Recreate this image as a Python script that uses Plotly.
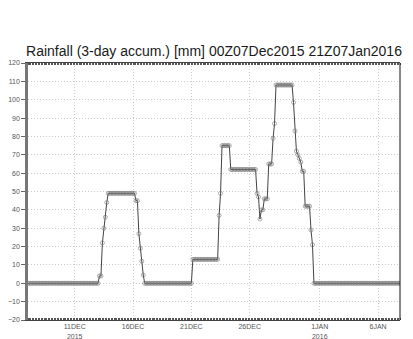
import pandas as pd
import plotly.graph_objects as go

# 3-hourly times, 00Z07Dec2015 .. 21Z07Jan2016
times = pd.date_range("2015-12-07 00:00", "2016-01-07 21:00", freq="3h")

rain_3day = [
    0, 0, 0, 0, 0, 0, 0, 0, 0, 0, 0, 0, 0, 0, 0, 0,
    0, 0, 0, 0, 0, 0, 0, 0, 0, 0, 0, 0, 0, 0, 0, 0,
    0, 0, 0, 0, 0, 0, 0, 0, 0, 0, 0, 0, 0, 0, 0, 0,
    0, 4, 4, 22, 30, 36, 44, 49, 49, 49, 49, 49, 49, 49, 49, 49,
    49, 49, 49, 49, 49, 49, 49, 49, 49, 49, 45, 45, 27, 19, 12, 4.5,
    0, 0, 0, 0, 0, 0, 0, 0, 0, 0, 0, 0, 0, 0, 0, 0,
    0, 0, 0, 0, 0, 0, 0, 0, 0, 0, 0, 0, 0, 0, 0, 0,
    0, 13, 13, 13, 13, 13, 13, 13, 13, 13, 13, 13, 13, 13, 13, 13,
    13, 13, 13, 37, 49, 75, 75, 75, 75, 75, 75, 62, 62, 62, 62, 62,
    62, 62, 62, 62, 62, 62, 62, 62, 62, 62, 62, 62, 62, 49, 47, 35,
    40, 40, 46, 46, 46, 65, 65, 65, 79, 87, 108, 108, 108, 108, 108, 108,
    108, 108, 108, 108, 108, 108, 98.5, 83, 72, 70, 68, 66, 61, 61, 42, 42,
    42, 42, 29, 21, 0, 0, 0, 0, 0, 0, 0, 0, 0, 0, 0, 0,
    0, 0, 0, 0, 0, 0, 0, 0, 0, 0, 0, 0, 0, 0, 0, 0,
    0, 0, 0, 0, 0, 0, 0, 0, 0, 0, 0, 0, 0, 0, 0, 0,
    0, 0, 0, 0, 0, 0, 0, 0, 0, 0, 0, 0, 0, 0, 0, 0,
]

x_tick_vals = ["2015-12-11", "2015-12-16", "2015-12-21", "2015-12-26", "2016-01-01", "2016-01-06"]
x_tick_text = ["11DEC<br>2015", "16DEC", "21DEC", "26DEC", "1JAN<br>2016", "6JAN"]
y_tick_vals = [-20, -10, 0, 10, 20, 30, 40, 50, 60, 70, 80, 90, 100, 110, 120]

title_text = "Rainfall (3-day accum.) [mm] 00Z07Dec2015 21Z07Jan2016"

fig = go.Figure()
fig.add_trace(go.Scatter(
    x=times, y=rain_3day, mode="lines+markers",
    line=dict(color="#444444", width=1),
    marker=dict(symbol="circle-open", size=4, color="#777777", line=dict(width=0.6)),
    showlegend=False, hoverinfo="skip",
))

# the page body has an 8px margin, so the figure is laid out 8px left/up
fig.update_layout(
    width=413, height=339,
    margin=dict(l=20, r=21, t=55, b=27, autoexpand=False),
    paper_bgcolor="white", plot_bgcolor="white",
    title=dict(text=title_text, x=206 / 413, xanchor="center", xref="container",
               y=1 - 43.5 / 339, yref="container", yanchor="middle", automargin=False,
               font=dict(family="Liberation Sans", size=14, color="#1a1a1a")),
    font=dict(family="Liberation Sans", size=7, color="#444444"),
)

fig.update_xaxes(
    range=[times[0], times[-1]], automargin=False,
    tickmode="array", tickvals=x_tick_vals, ticktext=x_tick_text,
    ticks="", showline=True, linecolor="#444444", linewidth=1, mirror="ticks",
    showgrid=True, gridcolor="#cccccc", griddash="1px,2px", gridwidth=1,
    minor=dict(dtick=3 * 3600 * 1000, ticks="inside", ticklen=2, tickcolor="#555555",
               tickwidth=0.8, showgrid=False),
    tickfont=dict(size=7, color="#555555"),
    zeroline=False,
)

fig.update_yaxes(
    range=[-20, 120], tickmode="array", tickvals=y_tick_vals, automargin=False,
    ticks="outside", ticklen=4, tickcolor="#666666", tickwidth=1,
    showline=True, linecolor="#777777", linewidth=2.5, mirror=False,
    showgrid=True, gridcolor="#cccccc", griddash="1px,2px", gridwidth=1,
    zeroline=False, tickfont=dict(size=7, color="#555555"),
)

fig.add_shape(type="line", xref="paper", yref="paper", x0=1, x1=1, y0=0, y1=1,
              line=dict(color="#111111", width=1))

fig.write_html("out.html")
